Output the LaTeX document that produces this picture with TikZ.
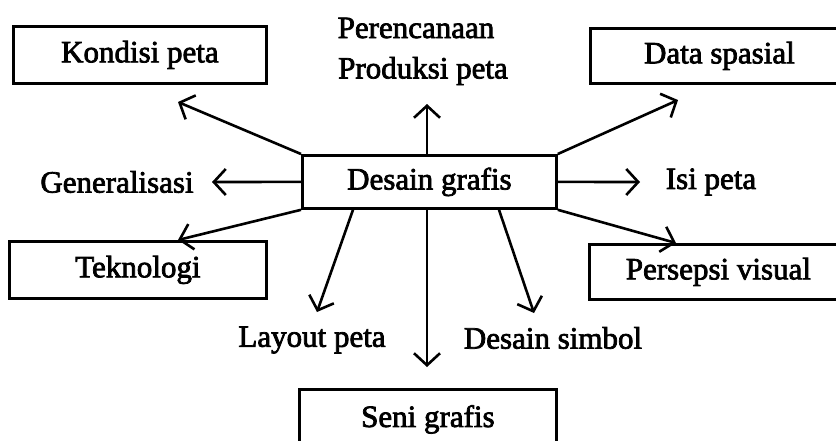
\documentclass[tikz,border=0pt]{standalone}
\usepackage{fontspec}
\setmainfont{Liberation Serif}[FakeBold=2.4]
\usetikzlibrary{arrows.meta}
\begin{document}
\begin{tikzpicture}[x=1pt,y=-1pt,
  every node/.style={font=\fontsize{31}{36}\selectfont, inner sep=0pt},
  box/.style={draw, line width=2.8pt, minimum height=#1, anchor=north west},
  link/.style={line width=2.6pt, -{Straight Barb[length=12pt,width=26pt,line width=2.6pt]}}]
  \useasboundingbox (0,0) rectangle (836,440);
  \clip (0,0) rectangle (836,440);
  \fill[white] (0,0) rectangle (836,440);

  % boxes
  \node[box=57pt, minimum width=253pt] (kond) at (12,25) {};
  \node at (kond.center) {Kondisi peta};
  \node[box=55pt, minimum width=262pt] (data) at (589,27) {};
  \node at ([xshift=-2pt]data.center) {Data spasial};
  \node[box=53pt, minimum width=254pt] (des) at (301,154) {};
  \node at (des.center) {Desain grafis};
  \node[box=57pt, minimum width=257pt] (tekn) at (8,240) {};
  \node at (tekn.center) {Teknologi};
  \node[box=55pt, minimum width=262pt] (pers) at (588,243) {};
  \node at ([xshift=-2pt]pers.center) {Persepsi visual};
  \node[box=58pt, minimum width=257pt] (seni) at (298,388) {};
  \node at ([yshift=-1pt]seni.center) {Seni grafis};

  % free labels
  \node (pere) at (416,28) {Perencanaan};
  \node (prod) at (423,71) {Produksi peta};
  \node (gen) at (117,182) {Generalisasi};
  \node (isi) at (711,182) {Isi peta};
  \node (lay) at (312,340) {Layout peta};
  \node (dsim) at (553,338) {Desain simbol};

  % arrow ends
  \coordinate (tk) at (178,102);
  \coordinate (tp) at (427,104);
  \coordinate (td) at (678,100);
  \coordinate (tg) at (212,182);
  \coordinate (ti) at (640,182);
  \coordinate (tl) at (317,312);
  \coordinate (ts) at (427,367);
  \coordinate (tds) at (534,313);

  % connectors
  \draw[link] (des.north west) -- (tk);
  \draw[link] (des.north west -| tp) -- (tp);
  \draw[link] (des.north east) -- (td);
  \draw[link] (des.west) -- (tg);
  \draw[link] (des.east) -- (ti);
  \draw[link] (des.south west) -- (tekn.north west -| 178,0);
  \draw[link] (des.south east) -- (pers.north west -| 676,0);
  \draw[link] (des.south west -| 353,0) -- (tl);
  \draw[link] (des.south west -| ts) -- (ts);
  \draw[link] (des.south west -| 499,0) -- (tds);
\end{tikzpicture}
\end{document}
